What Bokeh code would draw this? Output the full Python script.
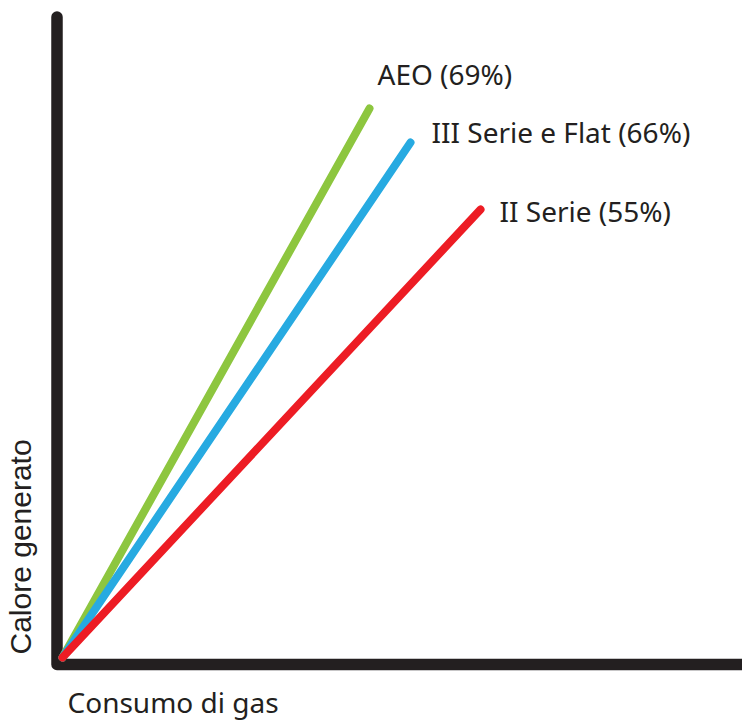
import math
from bokeh.plotting import figure
from bokeh.models import ColumnDataSource
from bokeh.core.properties import value
from bokeh.embed import file_html
from bokeh.resources import INLINE

# Data (gas consumption vs generated heat, arbitrary units)
series = ["AEO (69%)", "III Serie e Flat (66%)", "II Serie (55%)"]
gas_end = [30.7, 34.8, 41.8]
heat_end = [54.9, 51.5, 44.8]
colors = ["#8dc63f", "#27aae1", "#ed1c24"]
x_label = "Consumo di gas"
y_label = "Calore generato"

# label offsets in screen px (y positive = down)
lab_dx = [8, 21, 19]
lab_dy = [-35, -11, 1]

FONT = "Noto Sans"
INK = "#231f20"

W, H = 742, 720
x0 = -6.2
y1 = 65.7
p = figure(width=W, height=H, output_backend="svg", toolbar_location=None,
           x_range=(x0, x0 + W / 10), y_range=(y1 - H / 10, y1),
           min_border=0, outline_line_color=None)
p.axis.visible = False
p.grid.visible = False
p.background_fill_color = "white"

# Axes drawn as a thick L
p.line(x=[-0.55, -0.55, 80], y=[64.05, -0.7, -0.7], line_width=11.5,
       line_color=INK, line_cap="round", line_join="round")

for gx, hy, c in zip(gas_end, heat_end, colors):
    p.line(x=[0, gx], y=[0, hy], line_width=8, line_color=c, line_cap="round")

src = ColumnDataSource(dict(x=gas_end, y=heat_end, t=series,
                            dx=lab_dx, dy=lab_dy))
p.text(x="x", y="y", text="t", x_offset="dx", y_offset="dy", source=src,
       text_font=value(FONT), text_font_size="28px", text_color=INK,
       text_baseline="alphabetic", text_align="left")

p.text(x=[0.5], y=[-4.4], text=[x_label], text_font=value(FONT),
       text_font_size="28px", text_color=INK, text_baseline="alphabetic")
p.text(x=[-4.2], y=[0.3], text=[y_label], angle=math.pi / 2,
       text_font=value("Liberation Sans"), text_font_size="30px",
       text_color=INK, text_baseline="alphabetic", text_align="left")

open("out.html", "w").write(file_html(p, INLINE))
